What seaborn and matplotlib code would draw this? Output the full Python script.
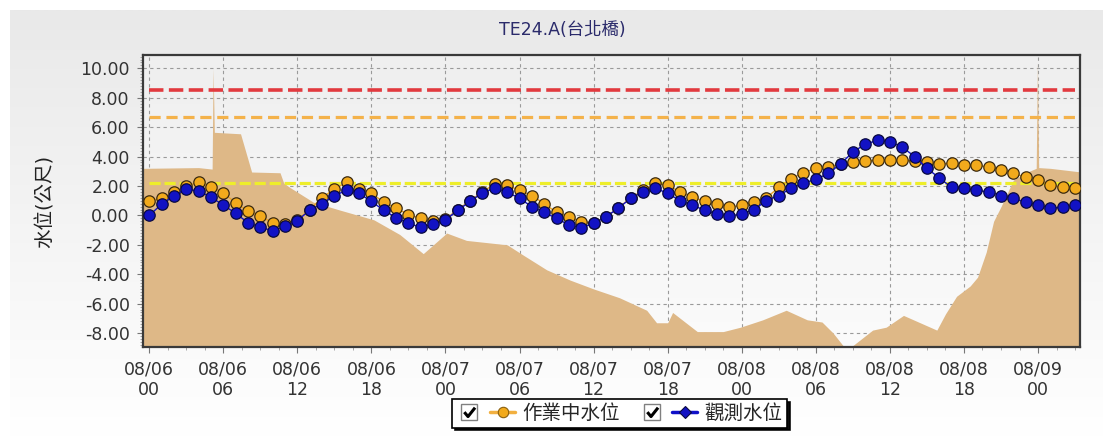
import numpy as np
import pandas as pd
import matplotlib
matplotlib.use("Agg")
import matplotlib.pyplot as plt
import matplotlib.dates as mdates
import seaborn as sns
from matplotlib.lines import Line2D
from matplotlib.path import Path
from matplotlib.legend_handler import HandlerTuple
from matplotlib.colors import LinearSegmentedColormap
from matplotlib.ticker import MultipleLocator, FormatStrFormatter

# 時間軸：2015/08/06 00時起，每小時一筆
start_time = "2015-08-06 00:00"

# 作業中水位 (m)
working_level = [
    1.0, 1.15, 1.6, 2.0, 2.25, 1.95, 1.55, 0.85, 0.3, -0.05,
    -0.5, -0.6, -0.3, 0.4, 1.2, 1.8, 2.25, 1.8, 1.5, 0.9,
    0.5, 0.05, -0.2, -0.4, -0.25, 0.4, 1.0, 1.6, 2.15, 2.05,
    1.7, 1.35, 0.8, 0.2, -0.1, -0.45, -0.5, -0.1, 0.5, 1.2,
    1.7, 2.2, 2.05, 1.6, 1.25, 0.95, 0.75, 0.55, 0.7, 0.9,
    1.2, 1.9, 2.5, 2.9, 3.2, 3.3, 3.5, 3.6, 3.7, 3.75,
    3.75, 3.75, 3.7, 3.6, 3.5, 3.55, 3.4, 3.4, 3.3, 3.1,
    2.85, 2.6, 2.4, 2.05, 1.9, 1.85,
]

# 觀測水位 (m)
observed_level = [
    0.0, 0.75, 1.35, 1.8, 1.65, 1.25, 0.7, 0.15, -0.5, -0.8,
    -1.05, -0.75, -0.35, 0.35, 0.8, 1.35, 1.7, 1.5, 0.95, 0.35,
    -0.15, -0.55, -0.8, -0.6, -0.3, 0.35, 0.95, 1.55, 1.85, 1.6,
    1.15, 0.6, 0.2, -0.2, -0.65, -0.85, -0.55, -0.1, 0.5, 1.15,
    1.6, 1.85, 1.5, 1.0, 0.7, 0.35, 0.1, -0.05, 0.1, 0.4,
    1.0, 1.35, 1.85, 2.2, 2.45, 2.85, 3.5, 4.3, 4.85, 5.1,
    5.0, 4.65, 4.0, 3.2, 2.55, 1.9, 1.85, 1.7, 1.6, 1.35,
    1.15, 0.9, 0.7, 0.5, 0.55, 0.7,
]

# 背景面積 (小時, 值)
area_hours = [
    -0.5, 4.0, 5.1, 5.18, 5.28, 7.4, 8.3, 10.6, 10.9, 11.4,
    13.3, 15.5, 18.2, 20.3, 22.2, 24.1, 25.7, 29.0, 30.3, 32.2,
    34.1, 36.0, 38.1, 40.3, 41.1, 42.0, 42.4, 44.4, 46.5, 47.9,
    49.7, 51.6, 53.3, 54.5, 55.4, 56.2, 57.0, 58.6, 59.7, 61.1,
    63.8, 64.5, 65.4, 66.5, 67.1, 67.8, 68.4, 69.0, 69.5, 70.0,
    71.0, 71.85, 71.95, 72.05, 73.0, 75.5,
]
area_values = [
    3.2, 3.25, 3.15, 10.0, 5.65, 5.55, 2.95, 2.9, 2.2, 1.9,
    0.9, 0.35, -0.3, -1.3, -2.6, -1.2, -1.7, -2.0, -2.7, -3.7,
    -4.4, -5.0, -5.6, -6.45, -7.3, -7.3, -6.6, -7.9, -7.9, -7.6,
    -7.1, -6.45, -7.1, -7.25, -8.0, -8.85, -8.85, -7.8, -7.6, -6.8,
    -7.8, -6.7, -5.5, -4.8, -4.2, -2.5, -0.4, 0.6, 1.5, 2.4,
    2.9, 3.2, 10.4, 3.25, 3.2, 2.95,
]

# 警戒水位
alert_levels = [8.5, 6.7, 2.2]
alert_colors = ["#e23a3f", "#f4b24a", "#eeee2a"]

labels = ["作業中水位", "觀測水位"]
title = "TE24.A(台北橋)"
y_label = "水位(公尺)"

sns.set_theme(style="ticks")
plt.rcParams["font.family"] = ["DejaVu Sans", "Noto Sans CJK TC"]
plt.rcParams["axes.unicode_minus"] = False

t0 = pd.Timestamp(start_time)
times = pd.date_range(t0, periods=len(observed_level), freq="h")
area_times = t0 + pd.to_timedelta(area_hours, unit="h")

fig = plt.figure(figsize=(11.05, 4.37), dpi=100, facecolor="white")

# 外框漸層背景
bg = fig.add_axes([0.009, 0.0, 0.989, 0.977], zorder=-5)
bg_cmap = LinearSegmentedColormap.from_list("bg", ["#ffffff", "#e9e9e9"])
bg.imshow(np.linspace(0, 1, 256).reshape(-1, 1), cmap=bg_cmap, aspect="auto", origin="lower")
bg.axis("off")

ax = fig.add_axes([0.1294, 0.2059, 0.848, 0.668])
ax.set_facecolor("none")
plot_cmap = LinearSegmentedColormap.from_list("pl", ["#fbfbfb", "#efefef"])
ax.imshow(np.linspace(0, 1, 256).reshape(-1, 1), cmap=plot_cmap, aspect="auto",
          origin="lower", extent=(0, 1, 0, 1), transform=ax.transAxes, zorder=-10)

ax.fill_between(area_times, -10, area_values, color="#deb887", linewidth=0, zorder=1)

dash_styles = [(0, (4, 1.5)), (0, (3.5, 1.8)), (0, (3.5, 1.2))]
widths = [2.6, 2.3, 2.3]
for lvl, col, ds, lw in zip(alert_levels, alert_colors, dash_styles, widths):
    ax.hlines(lvl, times[0], times[-1], colors=col, linestyles=ds, linewidth=lw, zorder=2)

sns.lineplot(x=times, y=working_level, ax=ax, color="#e8a428", linewidth=1.0,
             marker="o", markersize=8.2, markerfacecolor="#f2aa1c",
             markeredgecolor="#3b2a10", markeredgewidth=0.9, zorder=3)
sns.lineplot(x=times, y=observed_level, ax=ax, color="#1010c8", linewidth=1.0,
             marker="o", markersize=8.2, markerfacecolor="#1212c4",
             markeredgecolor="#0a0a40", markeredgewidth=0.9, zorder=4)

ax.set_xlim(t0 - pd.Timedelta(hours=0.5), t0 + pd.Timedelta(hours=75.4))
ax.set_ylim(-8.95, 10.9)

ax.xaxis.set_major_locator(mdates.HourLocator(byhour=[0, 6, 12, 18]))
ax.xaxis.set_minor_locator(MultipleLocator(1.5 / 24))
ax.xaxis.set_major_formatter(mdates.DateFormatter("%m/%d\n%H"))
ax.yaxis.set_major_locator(MultipleLocator(2))
ax.yaxis.set_minor_locator(MultipleLocator(0.2))
ax.yaxis.set_major_formatter(FormatStrFormatter("%.2f"))

ax.grid(True, which="major", color="#9a9a9a", linestyle=(0, (3, 3)), linewidth=0.8)
ax.set_axisbelow(True)

ax.tick_params(axis="both", which="major", direction="out", length=4.5, width=0.8,
               color="#777777", labelsize=12.5, labelcolor="#333333", pad=5)
ax.tick_params(axis="both", which="minor", direction="out", length=2.2, width=0.6,
               color="#999999")
for s in ax.spines.values():
    s.set_color("#3a3a3a")
    s.set_linewidth(1.6)

ax.set_xlabel("")
ax.set_ylabel(y_label, fontsize=14, color="#222222")
ax.yaxis.set_label_coords(-0.094, 0.5)

fig.text(0.509, 0.931, title, ha="center", va="center", fontsize=12.5, color="#2b2b6b")

# 圖例：勾選框 + 線
box = Line2D([], [], ls="none", marker="s", ms=12, mfc="white", mec="#808080", mew=1)
check_path = Path([(-0.7, 0.05), (-0.2, -0.55), (0.75, 0.65)],
                  [Path.MOVETO, Path.LINETO, Path.LINETO])
check = Line2D([], [], ls="none", marker=check_path, ms=8, mfc="none", mec="black", mew=2.2)
work_h = Line2D([], [], color="#f2b040", lw=2.5, marker="o", ms=7.5,
                mfc="#f2aa1c", mec="#8a6010", mew=0.8)
obs_h = Line2D([], [], color="#1010c8", lw=2.5, marker="D", ms=6.5,
               mfc="#1212c4", mec="#0a0a40", mew=0.8)
entry1 = ((box, check), work_h)
entry2 = ((box, check), obs_h)
leg = fig.legend(handles=[entry1, entry2], labels=labels,
                 handler_map={entry1: HandlerTuple(ndivide=None, pad=0.4),
                              entry2: HandlerTuple(ndivide=None, pad=0.4)},
                 loc="upper left", bbox_to_anchor=(0.409, 0.087), ncol=2,
                 frameon=True, fancybox=False, shadow={"color": "black", "alpha": 0.95},
                 edgecolor="black", facecolor="white", framealpha=1, fontsize=14,
                 handlelength=3.0, handletextpad=0.35, columnspacing=1.0,
                 borderpad=0.25, borderaxespad=0)
leg.get_frame().set_linewidth(1.2)

fig.savefig("out.png", dpi=100, facecolor=fig.get_facecolor())
